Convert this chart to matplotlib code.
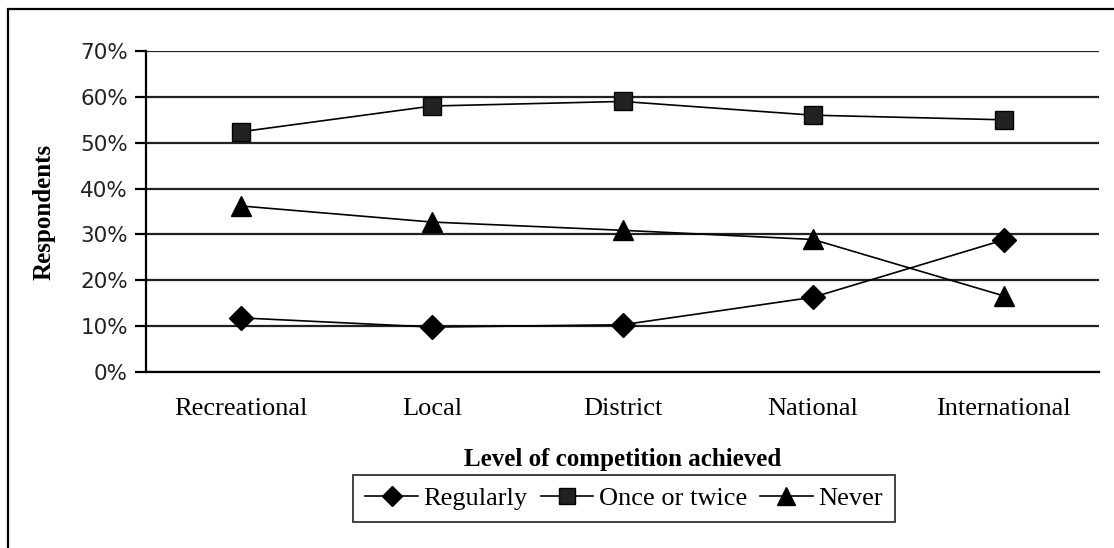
import matplotlib.pyplot as plt
from matplotlib.patches import Rectangle
from matplotlib.ticker import FuncFormatter

levels = ["Recreational", "Local", "District", "National", "International"]
regularly = [11.8, 9.8, 10.3, 16.3, 28.8]
once_or_twice = [52.4, 58.0, 59.0, 56.0, 55.0]
never = [36.2, 32.7, 30.9, 28.9, 16.6]

W, H = 1114, 548
fig = plt.figure(figsize=(W / 100, H / 100), dpi=100)

# outer chart frame (runs off the right and bottom edges)
fig.patches.append(Rectangle((8 / W, -0.05), 1.2, 1 - 8.5 / H + 0.05,
                             transform=fig.transFigure, fill=False,
                             edgecolor="black", linewidth=1.6))

ax = fig.add_axes([146 / W, 1 - 372 / H, (1099 - 146) / W, (372 - 51) / H])

x = range(len(levels))
ax.plot(x, regularly, color="black", lw=1.2, marker="D", ms=12, label="Regularly")
ax.plot(x, once_or_twice, color="black", lw=1.2, marker="s", ms=13,
        mfc="#222222", label="Once or twice")
ax.plot(x, never, color="black", lw=1.2, marker="^", ms=15, label="Never")

ax.set_xlim(-0.5, len(levels) - 0.5)
ax.set_ylim(0, 70)
ax.set_yticks(range(0, 71, 10))
ax.yaxis.set_major_formatter(FuncFormatter(lambda v, p: f"{v:.0f}%"))
ax.grid(axis="y", color="#222222", lw=1.6)
ax.set_axisbelow(True)

for s in ["top", "right"]:
    ax.spines[s].set_visible(False)
ax.spines["left"].set_linewidth(1.6)
ax.spines["bottom"].set_linewidth(1.6)
ax.tick_params(axis="y", length=8, width=1.6, labelsize=15.5, pad=5)
ax.tick_params(axis="x", length=0, pad=19)
ax.set_xticks(list(x))
ax.set_xticklabels(levels, fontsize=19, family="Liberation Serif")
for t in ax.get_yticklabels():
    t.set_family("DejaVu Sans")
    t.set_color("#222222")

ax.set_ylabel("Respondents", fontsize=18, fontweight="bold",
              family="Liberation Serif", labelpad=18)
ax.set_xlabel("Level of competition achieved", fontsize=18, fontweight="bold",
              family="Liberation Serif", labelpad=20)

leg = ax.legend(loc="upper center", bbox_to_anchor=(624 / W, 1 - 475 / H),
                bbox_transform=fig.transFigure, ncol=3, frameon=True,
                fancybox=False, edgecolor="black",
                prop={"family": "Liberation Serif", "size": 19},
                markerscale=0.85, handlelength=2.0, handletextpad=0.2,
                columnspacing=0.5, borderpad=0.45, borderaxespad=0)
leg.get_frame().set_linewidth(1.3)

plt.savefig("out.png", dpi=100)
plt.close()
